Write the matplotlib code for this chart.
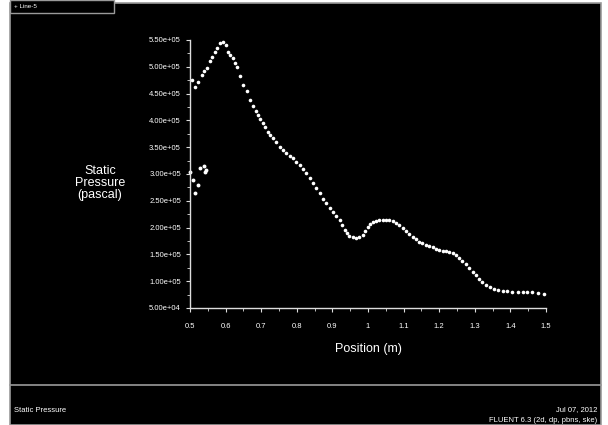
import matplotlib
matplotlib.use("Agg")
import matplotlib.pyplot as plt
from matplotlib.patches import Rectangle
from matplotlib.ticker import MultipleLocator, FuncFormatter

plt.rcParams['font.family'] = ['Liberation Sans', 'DejaVu Sans']

# position (m) along the line
position = [0.505, 0.514, 0.523, 0.533, 0.540, 0.547, 0.556, 0.563, 0.570, 0.577,
            0.584, 0.593, 0.600, 0.607, 0.613, 0.620, 0.626, 0.631, 0.640, 0.649,
            0.659, 0.669, 0.677, 0.684, 0.691, 0.698, 0.705, 0.712, 0.719, 0.726,
            0.733, 0.742, 0.752, 0.761, 0.771, 0.780, 0.789, 0.798, 0.808, 0.817,
            0.827, 0.836, 0.845, 0.855, 0.864, 0.873, 0.883, 0.892, 0.901, 0.910,
            0.920, 0.927, 0.934, 0.941, 0.948, 0.957, 0.967, 0.976, 0.985, 0.992,
            0.999, 1.006, 1.013, 1.022, 1.032, 1.041, 1.051, 1.060, 1.069, 1.078,
            1.088, 1.097, 1.107, 1.116, 1.125, 1.134, 1.144, 1.153, 1.163, 1.172,
            1.182, 1.191, 1.200, 1.210, 1.219, 1.228, 1.238, 1.247, 1.256, 1.265,
            1.275, 1.284, 1.294, 1.303, 1.312, 1.321, 1.331, 1.342, 1.354, 1.366,
            1.378, 1.391, 1.405, 1.420, 1.434, 1.448, 1.462, 1.478, 1.494]
# static pressure (pascal)
pressure = [4.75e5, 4.63e5, 4.72e5, 4.85e5, 4.92e5, 4.98e5, 5.10e5, 5.19e5, 5.28e5, 5.36e5,
            5.44e5, 5.47e5, 5.40e5, 5.28e5, 5.22e5, 5.16e5, 5.08e5, 5.00e5, 4.82e5, 4.66e5,
            4.54e5, 4.38e5, 4.26e5, 4.18e5, 4.10e5, 4.02e5, 3.95e5, 3.87e5, 3.79e5, 3.73e5,
            3.67e5, 3.59e5, 3.51e5, 3.45e5, 3.39e5, 3.34e5, 3.29e5, 3.23e5, 3.17e5, 3.09e5,
            3.01e5, 2.92e5, 2.83e5, 2.73e5, 2.64e5, 2.54e5, 2.45e5, 2.37e5, 2.30e5, 2.22e5,
            2.14e5, 2.05e5, 1.96e5, 1.90e5, 1.84e5, 1.82e5, 1.81e5, 1.83e5, 1.86e5, 1.94e5,
            2.02e5, 2.06e5, 2.10e5, 2.12e5, 2.14e5, 2.15e5, 2.15e5, 2.14e5, 2.13e5, 2.09e5,
            2.05e5, 2.00e5, 1.94e5, 1.88e5, 1.83e5, 1.78e5, 1.74e5, 1.71e5, 1.68e5, 1.65e5,
            1.63e5, 1.61e5, 1.59e5, 1.57e5, 1.56e5, 1.54e5, 1.52e5, 1.48e5, 1.44e5, 1.38e5,
            1.32e5, 1.25e5, 1.18e5, 1.11e5, 1.05e5, 0.99e5, 0.93e5, 0.89e5, 0.85e5, 0.83e5,
            0.82e5, 0.81e5, 0.80e5, 0.795e5, 0.79e5, 0.79e5, 0.79e5, 0.78e5, 0.77e5]

# stray points near the inlet
stray_pos = [0.499, 0.509, 0.514, 0.523, 0.528, 0.539, 0.542, 0.544]
stray_p = [3.04e5, 2.89e5, 2.64e5, 2.80e5, 3.11e5, 3.14e5, 3.04e5, 3.08e5]

fig = plt.figure(figsize=(6.08, 4.25), dpi=100)
fig.patch.set_facecolor('white')

# black panel with grey frame
fig.patches.append(Rectangle((10 / 608, 0), 591 / 608, 422 / 425, transform=fig.transFigure,
                             facecolor='black', edgecolor='#9a9a9a', linewidth=1.2, zorder=-5))
fig.add_artist(plt.Line2D([10 / 608, 601 / 608], [1 - 385 / 425] * 2, color='#9a9a9a', lw=1.2, zorder=-4))

# legend box top left
fig.patches.append(Rectangle((10 / 608, 1 - 13 / 425), 104 / 608, 13 / 425, transform=fig.transFigure,
                             facecolor='black', edgecolor='#9a9a9a', linewidth=1.0, zorder=-4))
fig.text(14 / 608, 1 - 7 / 425, '+ Line-5', color='white', fontsize=4.5, va='center')

ax = fig.add_axes([190 / 608, 1 - 308 / 425, 356 / 608, 268 / 425])
ax.set_facecolor('black')
ax.plot(position, pressure, ls='none', marker='o', ms=2.6, mfc='white', mec='none', clip_on=False)
ax.plot(stray_pos, stray_p, ls='none', marker='o', ms=2.8, mfc='white', mec='none', clip_on=False)

ax.set_xlim(0.5, 1.5)
ax.set_ylim(5e4, 5.5e5)
ax.xaxis.set_major_locator(MultipleLocator(0.1))
ax.xaxis.set_minor_locator(MultipleLocator(0.05))
ax.yaxis.set_major_locator(MultipleLocator(5e4))
ax.yaxis.set_minor_locator(MultipleLocator(2.5e4))
ax.xaxis.set_major_formatter(FuncFormatter(lambda v, p: f'{v:.1f}'.rstrip('0').rstrip('.')))
ax.yaxis.set_major_formatter(FuncFormatter(lambda v, p: f'{v:.2e}'))

for s in ['top', 'right']:
    ax.spines[s].set_visible(False)
for s in ['left', 'bottom']:
    ax.spines[s].set_color('#dddddd')
    ax.spines[s].set_linewidth(1.0)
ax.tick_params(which='both', colors='#dddddd', labelcolor='white', labelsize=5.5, direction='out')
ax.tick_params(which='major', length=3, width=0.8)
ax.tick_params(which='minor', length=2, width=0.6)
ax.tick_params(axis='x', pad=8)

ax.set_xlabel('Position (m)', color='white', fontsize=9, labelpad=9)
fig.text(100 / 608, 1 - 183 / 425, 'Static\nPressure\n(pascal)', color='white', fontsize=9,
         ha='center', va='center', linespacing=0.95)

fig.text(14 / 608, 1 - 410 / 425, 'Static Pressure', color='white', fontsize=5.5, va='center')
fig.text(597 / 608, 1 - 410 / 425, 'Jul 07, 2012', color='white', fontsize=5.5, va='center', ha='right')
fig.text(597 / 608, 1 - 421 / 425, 'FLUENT 6.3 (2d, dp, pbns, ske)', color='white', fontsize=5.5,
         va='center', ha='right')

fig.savefig('out.png', dpi=100, facecolor=fig.get_facecolor())
